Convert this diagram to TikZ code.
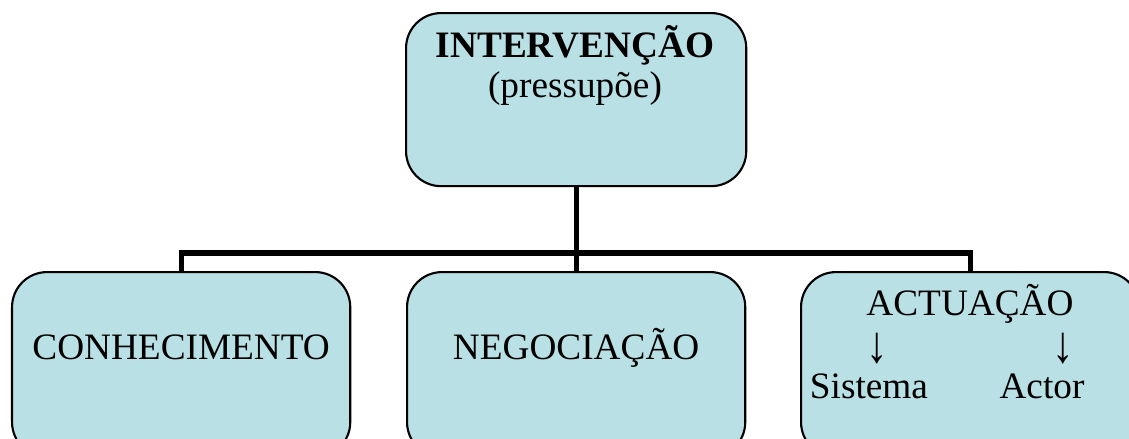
\documentclass[tikz,border=0pt]{standalone}
\usepackage{fontspec}
\setmainfont{Liberation Serif}
\usetikzlibrary{calc}
\definecolor{boxfill}{RGB}{185,224,228}

\begin{document}
\begin{tikzpicture}[x=0.01cm,y=-0.01cm]

        \tikzstyle{every node}=[inner sep=0pt,font=\fontsize{10.6}{12}\selectfont]
        \tikzstyle{box}=[draw,line width=0.6pt,fill=boxfill,rounded corners=0.35cm,anchor=north west,minimum width=3.38cm,minimum height=1.85cm]
        \tikzstyle{tree}=[line width=1.45pt,line join=miter]

        \useasboundingbox (0,0) rectangle (1129,438);

        \node[box,minimum width=3.4cm,minimum height=1.73cm] (interv) at (405,12) {};
        \foreach \name / \x in {conhec/11,negoc/406,actua/800} {
            \node[box] (\name) at (\x,271) {};
        }

        \coordinate (bar) at (0,253);
        \draw[tree] (interv.south) -- (negoc.north);
        \draw[tree] (conhec.north) -- (conhec.north |- bar) -- (actua.north |- bar) -- (actua.north);

        \node[anchor=base] (t_interv) at (575,57) {\bfseries INTERVENÇÃO};
        \node[anchor=base] (t_press) at (575,97) {(pressupõe)};

        \foreach \name / \txt in {conhec/CONHECIMENTO,negoc/NEGOCIAÇÃO} {
            \node[anchor=base] (t_\name) at (\name.north |- 0,359) {\txt};
        }

        \node[anchor=base] (t_actua) at (970,315) {ACTUAÇÃO};
        \node[anchor=base] (arr_sis) at (877,362) {\scalebox{1.15}[1.4]{↓}};
        \node[anchor=base] (arr_act) at (1063,362) {\scalebox{1.15}[1.4]{↓}};
        \node[anchor=base] (t_sis) at (869,398) {Sistema};
        \node[anchor=base] (t_act) at (1042,398) {Actor};

    \end{tikzpicture}
\end{document}
